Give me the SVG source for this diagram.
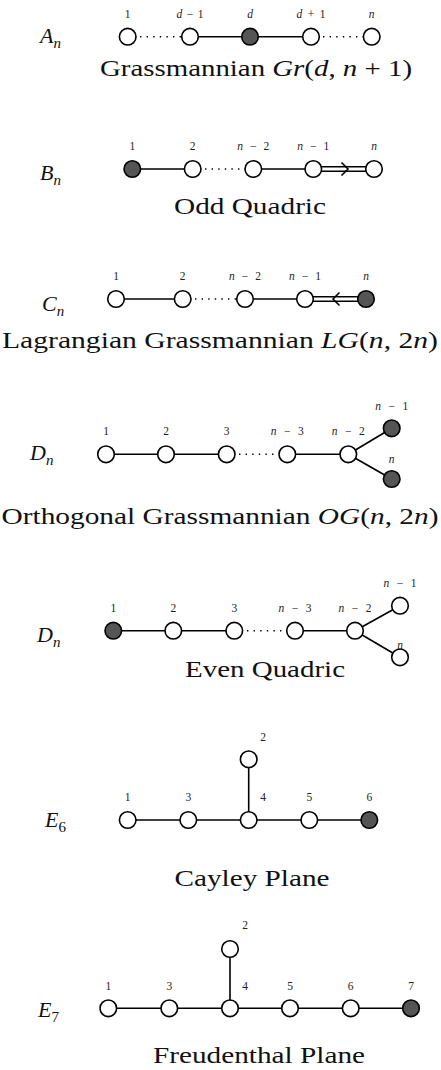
<svg xmlns="http://www.w3.org/2000/svg" width="441" height="1070" viewBox="0 0 441 1070">
<style>
.w{fill:#fff;stroke:#000;stroke-width:1.6}
.f{fill:#555;stroke:#000;stroke-width:1.6}
.e{stroke:#000;stroke-width:1.6;fill:none}
.d{stroke:#000;stroke-width:1.6;fill:none;stroke-dasharray:1.4 5.2}
.lb{font-family:"Liberation Serif",serif;font-size:11.5px;text-anchor:middle;fill:#222}
.cap{font-family:"Liberation Serif",serif;font-size:23px;text-anchor:middle;fill:#111}
.ttl{font-family:"Liberation Serif",serif;font-size:22px;font-style:italic;fill:#111}
.sub{font-size:15px}
.i{font-style:italic}
.n{font-style:normal}
</style>
<rect width="441" height="1070" fill="#fff"/>
<g id="connectors">
<line class="d" x1="140" y1="36.7" x2="181" y2="36.7"/>
<line class="e" x1="190" y1="36.7" x2="311" y2="36.7"/>
<line class="d" x1="323" y1="36.7" x2="363" y2="36.7"/>
<line class="e" x1="132.3" y1="169" x2="192.7" y2="169"/>
<line class="d" x1="205" y1="169" x2="245" y2="169"/>
<line class="e" x1="253.3" y1="169" x2="313.3" y2="169"/>
<line class="e" x1="320" y1="166.8" x2="368" y2="166.8"/>
<line class="e" x1="320" y1="171.2" x2="368" y2="171.2"/>
<polyline class="e" points="341.5,162.5 348,169 341.5,175.5"/>
<line class="e" x1="116" y1="299" x2="182.7" y2="299"/>
<line class="d" x1="195" y1="299" x2="236" y2="299"/>
<line class="e" x1="245" y1="299" x2="305" y2="299"/>
<line class="e" x1="311" y1="296.8" x2="360" y2="296.8"/>
<line class="e" x1="311" y1="301.2" x2="360" y2="301.2"/>
<polyline class="e" points="339.5,292.5 333,299 339.5,305.5"/>
<line class="e" x1="106" y1="454.3" x2="226.7" y2="454.3"/>
<line class="d" x1="239" y1="454.3" x2="278" y2="454.3"/>
<line class="e" x1="287.3" y1="454.3" x2="348.3" y2="454.3"/>
<line class="e" x1="348.3" y1="454.3" x2="391.7" y2="428.3"/>
<line class="e" x1="348.3" y1="454.3" x2="391.7" y2="479"/>
<line class="e" x1="113.3" y1="630.7" x2="234.3" y2="630.7"/>
<line class="d" x1="247" y1="630.7" x2="286" y2="630.7"/>
<line class="e" x1="295" y1="630.7" x2="355" y2="630.7"/>
<line class="e" x1="355" y1="630.7" x2="400" y2="605.7"/>
<line class="e" x1="355" y1="630.7" x2="400" y2="657.3"/>
<line class="e" x1="127.7" y1="820" x2="369.3" y2="820"/>
<line class="e" x1="248.7" y1="759.3" x2="248.7" y2="820"/>
<line class="e" x1="108.3" y1="1008.3" x2="411" y2="1008.3"/>
<line class="e" x1="230" y1="949" x2="230" y2="1008.3"/>
</g>

<g id="An">
<text class="ttl" x="40" y="43">A<tspan class="sub" dy="4.5">n</tspan></text>
<circle class="w" cx="127.7" cy="36.7" r="8.3"/>
<circle class="w" cx="190" cy="36.7" r="8.3"/>
<circle class="f" cx="250" cy="36.7" r="8.3"/>
<circle class="w" cx="311" cy="36.7" r="8.3"/>
<circle class="w" cx="371.7" cy="36.7" r="8.3"/>
<text class="lb" x="127.7" y="18">1</text>
<text class="lb" x="190" y="18" textLength="27" lengthAdjust="spacing"><tspan class="i">d</tspan>−1</text>
<text class="lb i" x="250" y="18">d</text>
<text class="lb" x="311" y="18" textLength="29" lengthAdjust="spacing"><tspan class="i">d</tspan>+1</text>
<text class="lb i" x="371.7" y="18">n</text>
<text class="cap" x="256" y="76" textLength="312" lengthAdjust="spacingAndGlyphs">Grassmannian <tspan class="i">Gr</tspan>(<tspan class="i">d</tspan>, <tspan class="i">n</tspan> + 1)</text>
</g>

<g id="Bn">
<text class="ttl" x="40" y="180">B<tspan class="sub" dy="4.5">n</tspan></text>
<circle class="f" cx="132.3" cy="169" r="8.3"/>
<circle class="w" cx="192.7" cy="169" r="8.3"/>
<circle class="w" cx="253.3" cy="169" r="8.3"/>
<circle class="w" cx="313.3" cy="169" r="8.3"/>
<circle class="w" cx="374" cy="169" r="8.3"/>
<text class="lb" x="132.3" y="150">1</text>
<text class="lb" x="192.7" y="150">2</text>
<text class="lb" x="253.3" y="150" textLength="32" lengthAdjust="spacing"><tspan class="i">n</tspan>−2</text>
<text class="lb" x="313.3" y="150" textLength="32" lengthAdjust="spacing"><tspan class="i">n</tspan>−1</text>
<text class="lb i" x="374" y="150">n</text>
<text class="cap" x="250" y="214" textLength="152" lengthAdjust="spacingAndGlyphs">Odd Quadric</text>
</g>

<g id="Cn">
<text class="ttl" x="42" y="311">C<tspan class="sub" dy="4.5">n</tspan></text>
<circle class="w" cx="116" cy="299" r="8.3"/>
<circle class="w" cx="182.7" cy="299" r="8.3"/>
<circle class="w" cx="245" cy="299" r="8.3"/>
<circle class="w" cx="305" cy="299" r="8.3"/>
<circle class="f" cx="366" cy="299" r="8.3"/>
<text class="lb" x="116" y="280">1</text>
<text class="lb" x="182.7" y="280">2</text>
<text class="lb" x="245" y="280" textLength="32" lengthAdjust="spacing"><tspan class="i">n</tspan>−2</text>
<text class="lb" x="305" y="280" textLength="32" lengthAdjust="spacing"><tspan class="i">n</tspan>−1</text>
<text class="lb i" x="366" y="280">n</text>
<text class="cap" x="220" y="348" textLength="436" lengthAdjust="spacingAndGlyphs">Lagrangian Grassmannian <tspan class="i">LG</tspan>(<tspan class="i">n</tspan>, 2<tspan class="i">n</tspan>)</text>
</g>

<g id="Dn1">
<text class="ttl" x="30" y="460">D<tspan class="sub" dy="4.5">n</tspan></text>
<circle class="w" cx="106" cy="454.3" r="8.3"/>
<circle class="w" cx="166" cy="454.3" r="8.3"/>
<circle class="w" cx="226.7" cy="454.3" r="8.3"/>
<circle class="w" cx="287.3" cy="454.3" r="8.3"/>
<circle class="w" cx="348.3" cy="454.3" r="8.3"/>
<circle class="f" cx="391.7" cy="428.3" r="8.3"/>
<circle class="f" cx="391.7" cy="479" r="8.3"/>
<text class="lb" x="106" y="435">1</text>
<text class="lb" x="166" y="435">2</text>
<text class="lb" x="226.7" y="435">3</text>
<text class="lb" x="287.3" y="435" textLength="33" lengthAdjust="spacing"><tspan class="i">n</tspan>−3</text>
<text class="lb" x="348.3" y="435" textLength="33" lengthAdjust="spacing"><tspan class="i">n</tspan>−2</text>
<text class="lb" x="391.7" y="410" textLength="33" lengthAdjust="spacing"><tspan class="i">n</tspan>−1</text>
<text class="lb i" x="391.7" y="463">n</text>
<text class="cap" x="220" y="524" textLength="437" lengthAdjust="spacingAndGlyphs">Orthogonal Grassmannian <tspan class="i">OG</tspan>(<tspan class="i">n</tspan>, 2<tspan class="i">n</tspan>)</text>
</g>

<g id="Dn2">
<text class="ttl" x="37" y="642">D<tspan class="sub" dy="4.5">n</tspan></text>
<circle class="f" cx="113.3" cy="630.7" r="8.3"/>
<circle class="w" cx="173.3" cy="630.7" r="8.3"/>
<circle class="w" cx="234.3" cy="630.7" r="8.3"/>
<circle class="w" cx="295" cy="630.7" r="8.3"/>
<circle class="w" cx="355" cy="630.7" r="8.3"/>
<circle class="w" cx="400" cy="605.7" r="8.3"/>
<circle class="w" cx="400" cy="657.3" r="8.3"/>
<text class="lb" x="113.3" y="612">1</text>
<text class="lb" x="173.3" y="612">2</text>
<text class="lb" x="234.3" y="612">3</text>
<text class="lb" x="295" y="612" textLength="33" lengthAdjust="spacing"><tspan class="i">n</tspan>−3</text>
<text class="lb" x="355" y="612" textLength="33" lengthAdjust="spacing"><tspan class="i">n</tspan>−2</text>
<text class="lb" x="400" y="587" textLength="33" lengthAdjust="spacing"><tspan class="i">n</tspan>−1</text>
<text class="lb i" x="400" y="649">n</text>
<text class="cap" x="265" y="677" textLength="160" lengthAdjust="spacingAndGlyphs">Even Quadric</text>
</g>

<g id="E6">
<text class="ttl" x="45" y="827">E<tspan class="sub n" dy="4.5">6</tspan></text>
<circle class="w" cx="127.7" cy="820" r="8.3"/>
<circle class="w" cx="188.3" cy="820" r="8.3"/>
<circle class="w" cx="248.7" cy="820" r="8.3"/>
<circle class="w" cx="309.3" cy="820" r="8.3"/>
<circle class="f" cx="369.3" cy="820" r="8.3"/>
<circle class="w" cx="248.7" cy="759.3" r="8.3"/>
<text class="lb" x="127.7" y="801">1</text>
<text class="lb" x="188.3" y="801">3</text>
<text class="lb" x="263" y="801">4</text>
<text class="lb" x="309.3" y="801">5</text>
<text class="lb" x="369.3" y="801">6</text>
<text class="lb" x="263" y="741">2</text>
<text class="cap" x="252" y="886" textLength="155" lengthAdjust="spacingAndGlyphs">Cayley Plane</text>
</g>

<g id="E7">
<text class="ttl" x="38" y="1017">E<tspan class="sub n" dy="4.5">7</tspan></text>
<circle class="w" cx="108.3" cy="1008.3" r="8.3"/>
<circle class="w" cx="169.3" cy="1008.3" r="8.3"/>
<circle class="w" cx="230" cy="1008.3" r="8.3"/>
<circle class="w" cx="290" cy="1008.3" r="8.3"/>
<circle class="w" cx="350.7" cy="1008.3" r="8.3"/>
<circle class="f" cx="411" cy="1008.3" r="8.3"/>
<circle class="w" cx="230" cy="949" r="8.3"/>
<text class="lb" x="108.3" y="990">1</text>
<text class="lb" x="169.3" y="990">3</text>
<text class="lb" x="245" y="990">4</text>
<text class="lb" x="290" y="990">5</text>
<text class="lb" x="350.7" y="990">6</text>
<text class="lb" x="411" y="990">7</text>
<text class="lb" x="245" y="929">2</text>
<text class="cap" x="259" y="1063" textLength="212" lengthAdjust="spacingAndGlyphs">Freudenthal Plane</text>
</g>
</svg>
